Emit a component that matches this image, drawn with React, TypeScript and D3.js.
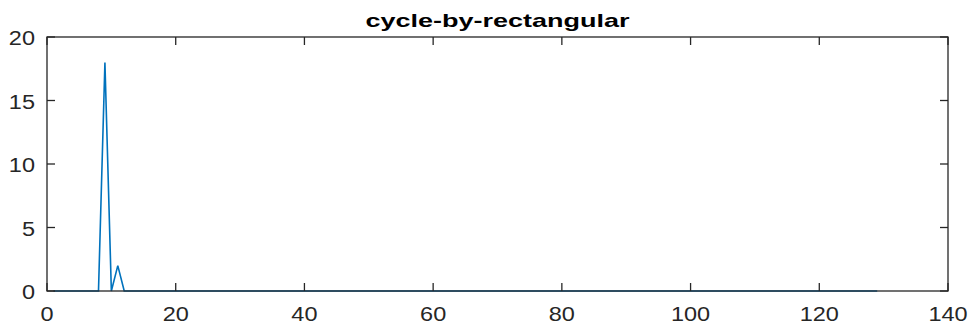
import React from "react";
import * as d3 from "d3";

// Series: sample index 1..129, counts per index
const indices: number[] = Array.from({ length: 129 }, (_, i) => i + 1);
const spikeIndices: number[] = [9, 11];
const spikeValues: number[] = [18, 2];
const values: number[] = indices.map((k) => {
  const j = spikeIndices.indexOf(k);
  return j >= 0 ? spikeValues[j] : 0;
});

const xTicks: number[] = [0, 20, 40, 60, 80, 100, 120, 140];
const yTicks: number[] = [0, 5, 10, 15, 20];
const title = "cycle-by-rectangular";

const W = 973;
const H = 327;
const margin = { left: 47, right: 25, top: 37, bottom: 36 };
const axisColor = "#262626";
const lineColor = "#0072BD";
const font = "'Liberation Sans', Arial, Helvetica, sans-serif";

export default function App() {
  const x = d3.scaleLinear().domain([0, 140]).range([margin.left, W - margin.right]);
  const y = d3.scaleLinear().domain([0, 20]).range([H - margin.bottom, margin.top]);
  const points: [number, number][] = indices.map((k, i) => [k, values[i]]);
  const line = d3
    .line<[number, number]>()
    .x((d) => x(d[0]))
    .y((d) => y(d[1]));

  const x0 = x(0);
  const x1 = x(140);
  const y0 = y(0);
  const y1 = y(20);
  const tickLen = 8;
  const sx = 1.12;

  return (
    <svg
      width={W}
      height={H}
      style={{ position: "absolute", left: 0, top: 0, background: "#fff" }}
      fontFamily={font}
    >
      <rect x={0} y={0} width={W} height={H} fill="#fff" />
      <path d={line(points) ?? ""} fill="none" stroke={lineColor} strokeWidth={1.6} strokeLinejoin="miter" />
      {/* axes box */}
      <rect x={x0} y={y1} width={x1 - x0} height={y0 - y1} fill="none" stroke={axisColor} strokeWidth={1.3} />
      {xTicks.map((t) => (
        <g key={"x" + t}>
          <line x1={x(t)} x2={x(t)} y1={y0} y2={y0 - tickLen} stroke={axisColor} strokeWidth={1.3} />
          <line x1={x(t)} x2={x(t)} y1={y1} y2={y1 + tickLen} stroke={axisColor} strokeWidth={1.3} />
          <text
            transform={`translate(${x(t)},${y0 + 30}) scale(${sx},1)`}
            textAnchor="middle"
            fontSize={21}
            fill={axisColor}
          >
            {t}
          </text>
        </g>
      ))}
      {yTicks.map((t) => (
        <g key={"y" + t}>
          <line x1={x0} x2={x0 + tickLen} y1={y(t)} y2={y(t)} stroke={axisColor} strokeWidth={1.3} />
          <line x1={x1} x2={x1 - tickLen} y1={y(t)} y2={y(t)} stroke={axisColor} strokeWidth={1.3} />
          <text
            transform={`translate(${x0 - 12},${y(t) + 8}) scale(${sx},1)`}
            textAnchor="end"
            fontSize={21}
            fill={axisColor}
          >
            {t}
          </text>
        </g>
      ))}
      <text
        x={(x0 + x1) / 2}
        y={27}
        textAnchor="middle"
        fontSize={19}
        fontWeight="bold"
        fill="#000"
        textLength={264}
        lengthAdjust="spacingAndGlyphs"
      >
        {title}
      </text>
    </svg>
  );
}
